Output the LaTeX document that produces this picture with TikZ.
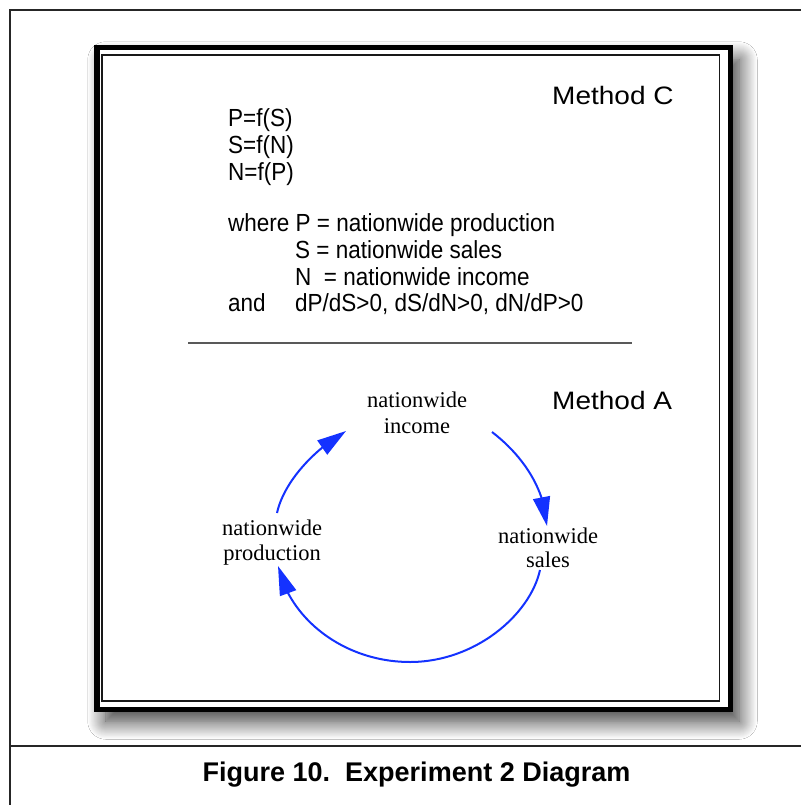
\documentclass[tikz,border=0pt]{standalone}
\usepackage{graphicx}
\usepackage{fontspec}
\setmainfont{Liberation Serif}
\newfontfamily\arial{Liberation Sans}
\usetikzlibrary{arrows.meta,bending,shadows.blur}
\definecolor{loopblue}{RGB}{20,50,255}
\newcommand{\vstretch}[2]{\scalebox{1}[#1]{#2}}
\tikzset{
  frameline/.style={line width=2pt, draw=black!85},
  eqline/.style={anchor=base west, inner sep=0pt, font=\arial\fontsize{22.5}{26}\selectfont},
  methodlabel/.style={anchor=base west, inner sep=0pt, font=\arial\fontsize{28}{32}\selectfont},
  concept/.style={anchor=north, inner sep=0pt, align=center},
  link/.style={draw=loopblue, line width=2pt, -{Triangle[length=29pt,width=17pt]}},
}
\begin{document}
\begin{tikzpicture}[x=1pt,y=-1pt]
\useasboundingbox (0,0) rectangle (800,805);
\fill[white] (0,0) rectangle (800,805);

% page frame and caption rule
\draw[frameline] (10,812) -- (10,10) -- (812,10);
\draw[frameline] (10,746) -- (812,746);

% panel with heavy border and soft drop shadow
\node[draw=black, line width=5.5pt, fill=white, minimum width=633.5pt, minimum height=661.5pt,
      blur shadow={shadow xshift=9pt, shadow yshift=-12pt, shadow blur radius=18pt,
                   shadow blur steps=20, shadow blur extra rounding=0pt, shadow opacity=80}]
      (panel) at (413.5,378.5) {};
\node[draw=black!90, line width=1.8pt, minimum width=617.5pt, minimum height=646pt]
      (inner) at (410.75,378) {};

% Method C: equations
\node[methodlabel] (methodC) at (552,104.5) {\vstretch{0.9}{Method C}};
\node[eqline] (eq1) at (228,126.7) {\vstretch{1.1}{P=f(S)}};
\node[eqline] (eq2) at (228,153.3) {\vstretch{1.1}{S=f(N)}};
\node[eqline] (eq3) at (228,180) {\vstretch{1.1}{N=f(P)}};
\node[eqline] (def1) at (228,231.7) {\vstretch{1.1}{where P = nationwide production}};
\node[eqline] (def2) at (295,258.3) {\vstretch{1.1}{S = nationwide sales}};
\node[eqline] (def3) at (295,285) {\vstretch{1.1}{N\ \ = nationwide income}};
\node[eqline] (andw) at (228,311.7) {\vstretch{1.1}{and}};
\node[eqline] (cond) at (295,311.7) {\vstretch{1.1}{dP/dS>0, dS/dN>0, dN/dP>0}};

% divider
\draw[draw=black!65, line width=1.3pt] (188,343) -- (632,343);

% Method A: causal loop
\node[methodlabel] (methodA) at (552,409.5) {\vstretch{0.9}{Method A}};
\node[concept, font=\fontsize{22.5}{26.6}\selectfont] (income) at (417,391.3) {nationwide\\income};
\node[concept, font=\fontsize{22.5}{25}\selectfont] (production) at (272,519.6) {nationwide\\production};
\node[concept, font=\fontsize{22.5}{23.4}\selectfont] (sales) at (548,528) {nationwide\\sales};

\coordinate (incomeOut) at (492,432);
\coordinate (salesIn) at (547,526);
\coordinate (salesOut) at (540,570);
\coordinate (loopBottom) at (410,662);
\coordinate (productionIn) at (278,566);
\coordinate (productionOut) at (277,513);
\coordinate (incomeIn) at (346,431);

\draw[link] (incomeOut) .. controls (522,455) and (545,488) .. (salesIn);
\draw[link] (salesOut) .. controls (530,615) and (475,662) .. (loopBottom)
            .. controls (345,662) and (290,620) .. (productionIn);
\draw[link] (productionOut) .. controls (283,485) and (310,452) .. (incomeIn);

% caption
\node[anchor=base, inner sep=0pt, font=\arial\bfseries\fontsize{27}{32}\selectfont]
      (caption) at (416.5,781) {Figure 10.\ \ Experiment 2 Diagram};
\end{tikzpicture}
\end{document}
